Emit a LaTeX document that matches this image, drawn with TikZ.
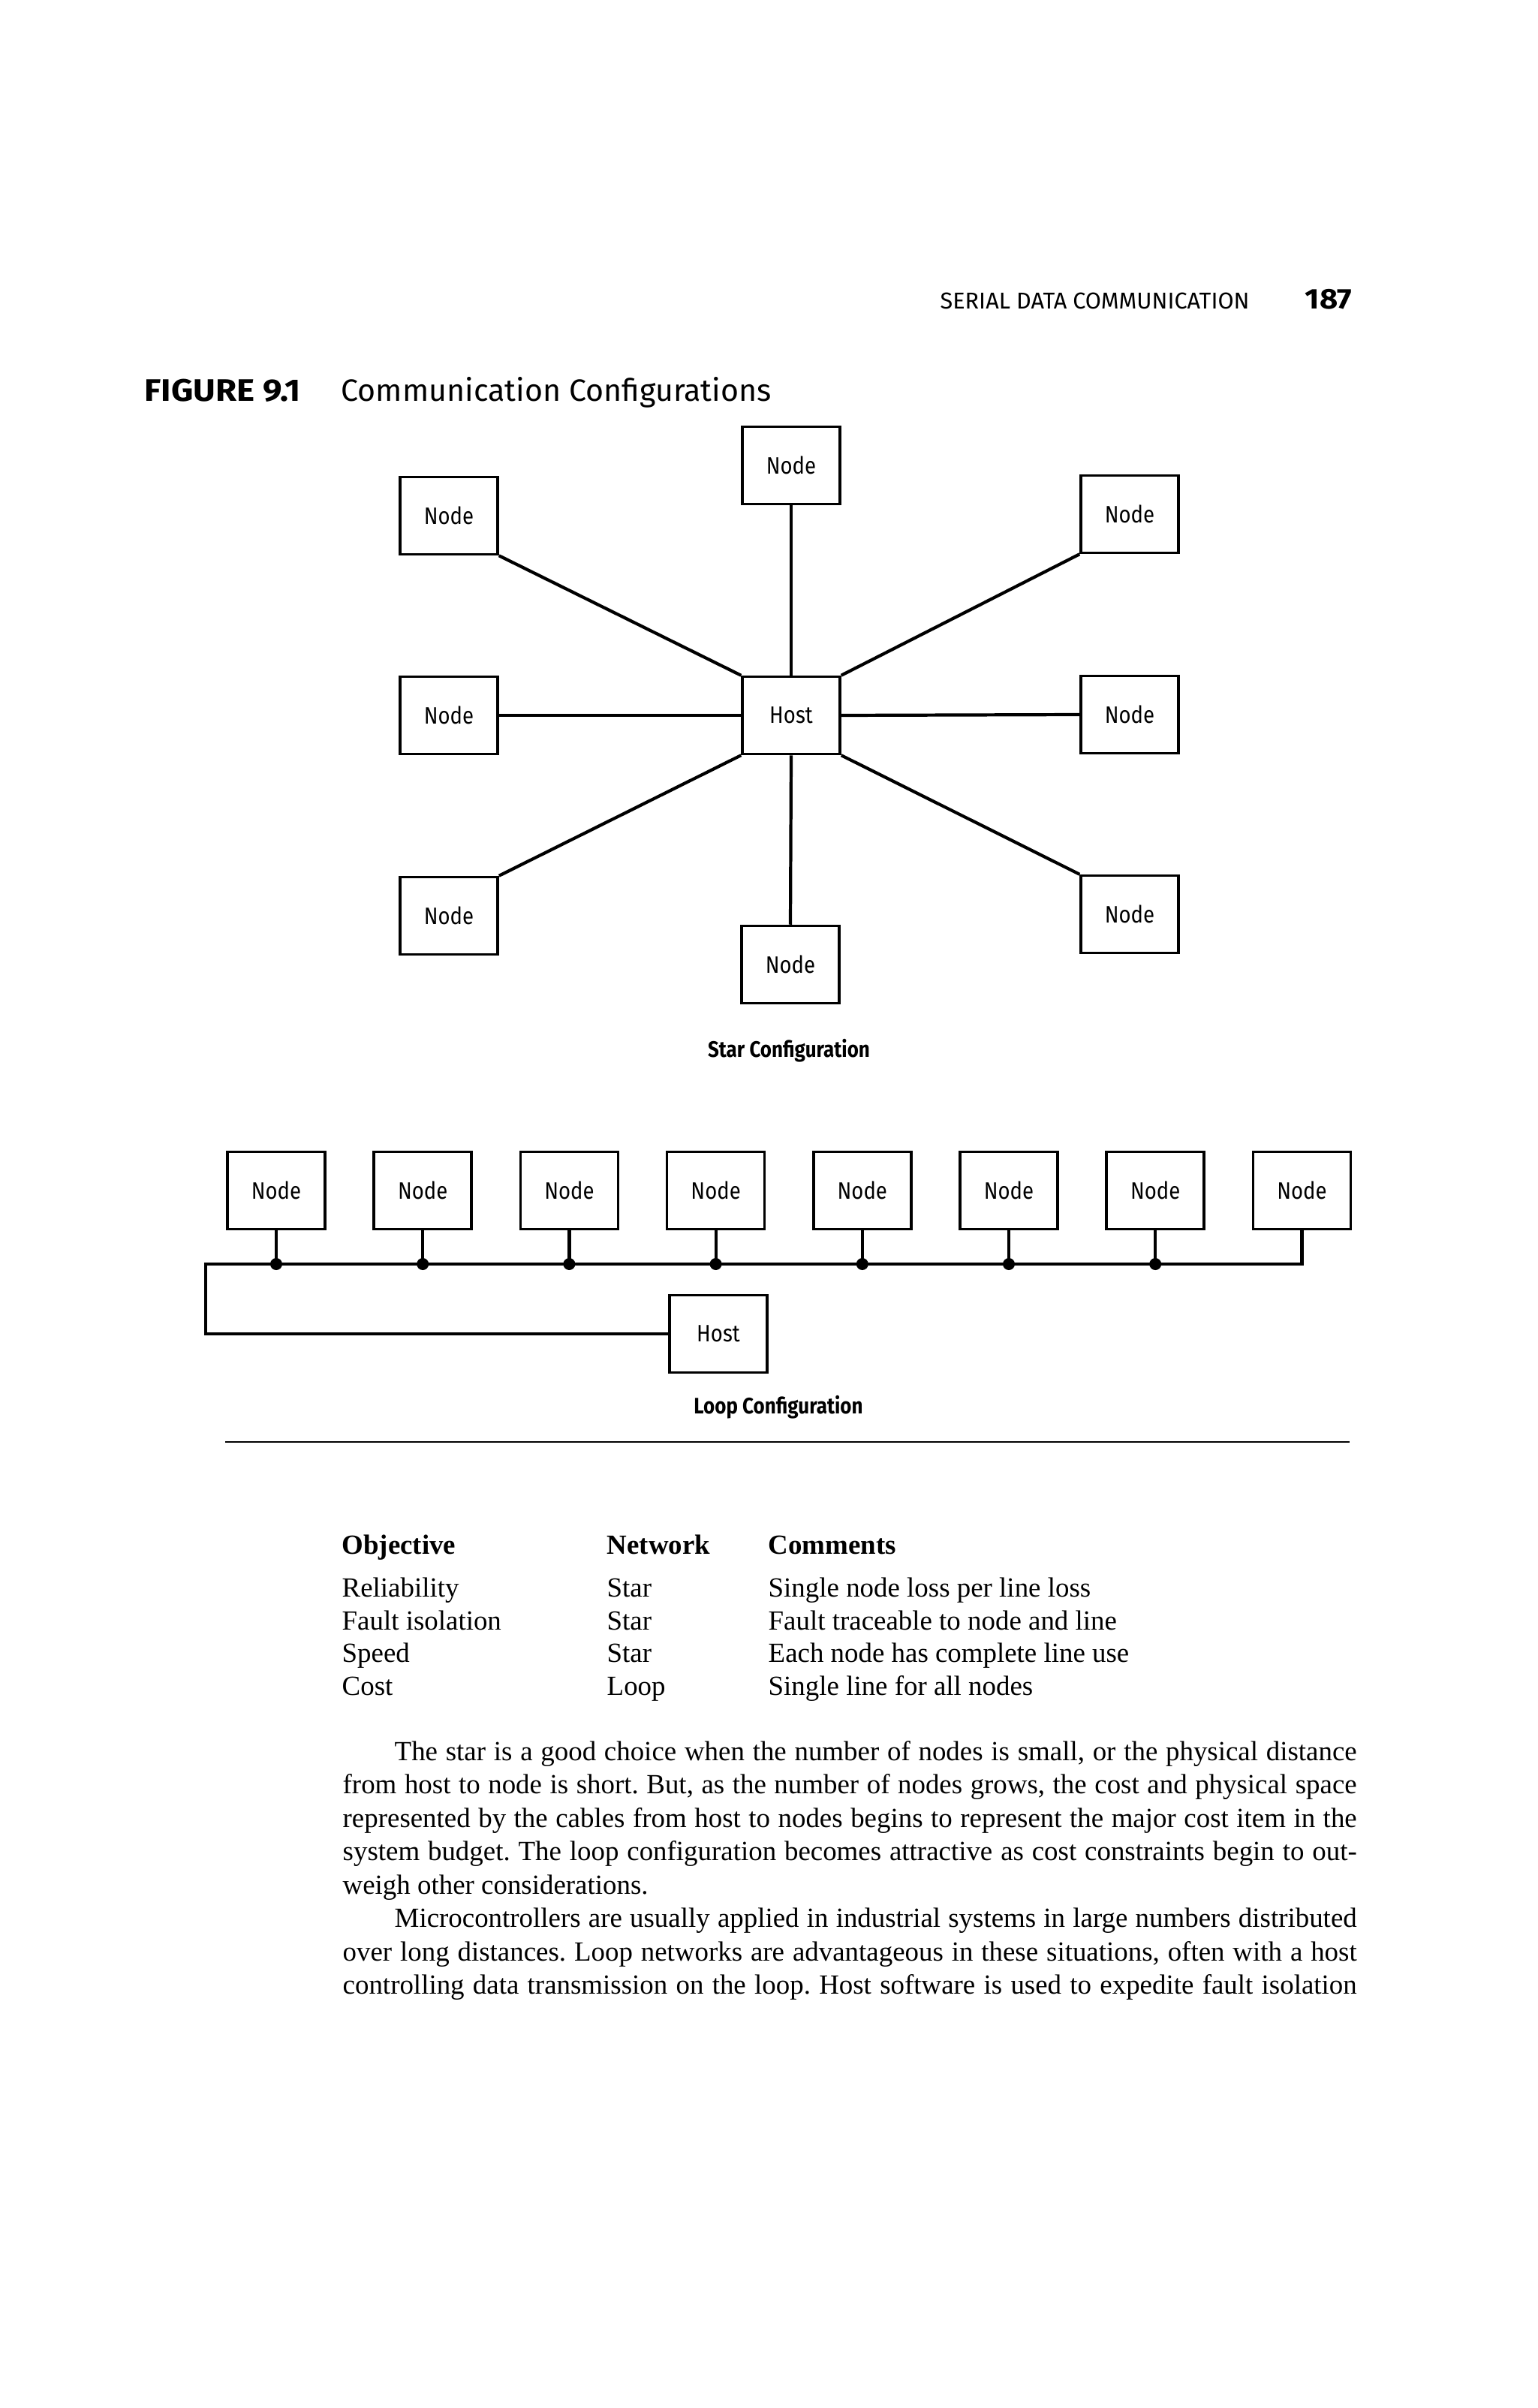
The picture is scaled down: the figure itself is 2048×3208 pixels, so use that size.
\documentclass[tikz,border=0pt]{standalone}
\usepackage{fontspec}
\setmainfont{Liberation Serif}
\newfontfamily\headfont{Fira Sans}
\newfontfamily\headwide{Fira Sans}[FakeStretch=1.1]
\newfontfamily\figfont{Fira Sans}[FakeStretch=0.87]
\frenchspacing
\tikzset{
    nodebox/.style={rectangle, draw, line width=1pt, minimum width=13mm, minimum height=10.3mm, inner sep=0pt, font=\figfont\fontsize{9}{10}\selectfont},
    wire/.style={line width=1.2pt},
    tap/.style={circle, fill, inner sep=0pt, minimum size=1.6mm},
    caption/.style={anchor=base, inner sep=0pt, font=\figfont\bfseries\fontsize{8.5}{10}\selectfont},
    tabtext/.style={anchor=base west, inner sep=0pt, font=\fontsize{10.5}{12}\selectfont},
    bodyline/.style={anchor=base west, inner sep=0pt, font=\fontsize{10.5}{12}\selectfont},
}

\begin{document}
\begin{tikzpicture}[x=0.1mm, y=-0.1mm]
    \useasboundingbox (0,0) rectangle (2048,3208);

    % Running head and title
    \node[anchor=base west, inner sep=0pt, font=\headfont\fontsize{8.7}{10}\selectfont] (runhead) at (1252,412) {SERIAL DATA COMMUNICATION};
    \node[anchor=base west, inner sep=0pt, font=\headwide\bfseries\fontsize{10.8}{12}\selectfont] (pageno) at (1738,412) {187};
    \node[anchor=base west, inner sep=0pt, font=\headwide\bfseries\fontsize{11.8}{13}\selectfont] (fignum) at (192,535) {FIGURE 9.1};
    \node[anchor=base west, inner sep=0pt, font=\headfont\fontsize{11.7}{13}\selectfont] (figtitle) at (454,535) {Communication Configurations};

    % Star configuration
    \node[nodebox] (shost) at (1054,953) {Host};
    \foreach \name/\x/\y in {stop/1054/620, sul/598/687, sur/1505/685, sml/598/953,
                            smr/1505/952, sll/598/1220, slr/1505/1218, sbot/1053/1285}
        \node[nodebox] (\name) at (\x,\y) {Node};
    \draw[wire] (sul.south east) -- (shost.north west);
    \draw[wire] (stop.south) -- (shost.north);
    \draw[wire] (sur.south west) -- (shost.north east);
    \draw[wire] (sml.east) -- (shost.west);
    \draw[wire] (smr.west) -- (shost.east);
    \draw[wire] (sll.north east) -- (shost.south west);
    \draw[wire] (sbot.north) -- (shost.south);
    \draw[wire] (slr.north west) -- (shost.south east);
    \node[caption] (starcap) at (1051,1408) {Star Configuration};

    % Loop configuration
    \foreach \i in {1,...,8}
        \node[nodebox] (n\i) at ({368+195.2*(\i-1)},1586) {Node};
    \node[nodebox] (lhost) at (957,1777) {Host};
    \coordinate (busl) at (274,1684);
    \draw[wire] (n8.south) |- (busl) |- (lhost.west);
    \foreach \i in {1,...,7}
        \draw[wire] (n\i.south) -- (n\i.south |- busl) node[tap] (tap\i) {};
    \node[caption] (loopcap) at (1037,1883) {Loop Configuration};

    \draw[line width=0.45pt] (300,1921) -- (1798,1921);

    % Table
    \foreach \x/\h in {455/Objective, 808/Network, 1023/Comments}
        \node[tabtext, font=\bfseries\fontsize{10.5}{12}\selectfont] (head\h) at (\x,2070) {\h};
    \foreach \y/\obj/\net/\com [count=\k] in {2127/Reliability/Star/Single node loss per line loss,
                                            2171/Fault isolation/Star/Fault traceable to node and line,
                                            2214/Speed/Star/Each node has complete line use,
                                            2258/Cost/Loop/Single line for all nodes} {
        \node[tabtext] (obj\k) at (455,\y) {\obj};
        \node[tabtext] (net\k) at (808,\y) {\net};
        \node[tabtext] (com\k) at (1023,\y) {\com};
    }

    % Text below
    \foreach \x/\w/\al/\t [count=\k] in {
        525/128.2/s/{The star is a good choice when the number of nodes is small, or the physical distance},
        456/135.1/s/{from host to node is short. But, as the number of nodes grows, the cost and physical space},
        456/135.1/s/{represented by the cables from host to nodes begins to represent the major cost item in the},
        456/135.1/s/{system budget. The loop configuration becomes attractive as cost constraints begin to out-},
        456/135.1/l/{weigh other considerations.},
        525/128.2/s/{Microcontrollers are usually applied in industrial systems in large numbers distributed},
        456/135.1/s/{over long distances. Loop networks are advantageous in these situations, often with a host},
        456/135.1/s/{controlling data transmission on the loop. Host software is used to expedite fault isolation}}
        \node[bodyline] (body\k) at (\x,{2345+44.5*(\k-1)}) {\makebox[\w mm][\al]{\t}};
\end{tikzpicture}
\end{document}
